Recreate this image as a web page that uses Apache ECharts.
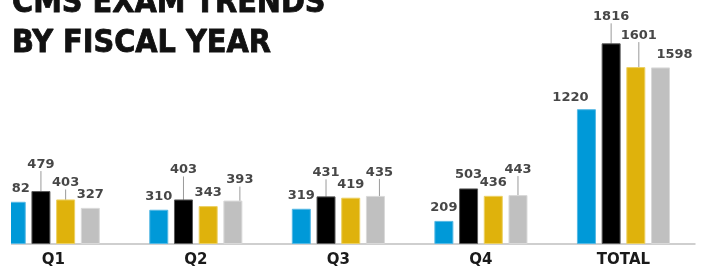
<!DOCTYPE html>
<html>
<head>
<meta charset="utf-8">
<script src="https://cdn.jsdelivr.net/npm/echarts@6/dist/echarts.min.js"></script>
<style>
html,body{margin:0;padding:0;background:#fff;overflow:hidden;width:701px;height:269px;}
#chart{width:719px;height:269px;margin-left:-18px;}
</style>
</head>
<body>
<div id="chart"></div>
<script>
// ---- data ----
const categories = ['Q1', 'Q2', 'Q3', 'Q4', 'TOTAL'];
const seriesNames = ['FY 1', 'FY 2', 'FY 3', 'FY 4'];
const fyBlue  = [382, 310, 319, 209, 1220];
const fyBlack = [479, 403, 431, 503, 1816];
const fyGold  = [403, 343, 419, 436, 1601];
const fyGray  = [327, 393, 435, 443, 1598];
const titleLines = ['CMS EXAM TRENDS', 'BY FISCAL YEAR'];

// ---- styling ----
const colors  = ['#0099D8', '#000000', '#DFB20C', '#C0C0C0'];
const borders = ['#55b8e4', '#5a5a5a', '#ecd062', '#d9d9d9'];
// label nudges [dx, dy] and leader-line flags (style only)
const labelShift = [
  [[0,0],[0,0],[0,0],[0,0],[-16,2]],
  [[0,-13],[0,-16],[0,-10],[0,0],[0,-13]],
  [[0,-3],[0,0],[0,0],[0,0],[3,-18]],
  [[0,0],[7,-7],[4,-10],[0,-12],[14,1]]
];
const leaders = [
  [false,false,false,false,false],
  [true,true,true,false,true],
  [true,false,false,false,true],
  [false,true,true,true,false]
];

const values = [fyBlue, fyBlack, fyGold, fyGray];
const series = values.map((vals, s) => ({
  name: seriesNames[s],
  type: 'bar',
  barWidth: 19,
  barGap: '30%',
  itemStyle: { color: colors[s], borderColor: borders[s], borderWidth: 1 },
  label: {
    show: true,
    position: 'top',
    distance: 7,
    fontFamily: 'DejaVu Sans',
    fontWeight: 'bold',
    fontSize: 13,
    color: '#474747'
  },
  labelLine: { show: false, lineStyle: { color: '#9a9a9a', width: 1 } },
  labelLayout: function (p) {
    const o = labelShift[p.seriesIndex][p.dataIndex];
    return { dx: o[0], dy: o[1] };
  },
  data: vals.map((v, i) => ({
    value: v,
    labelLine: { show: leaders[s][i], lineStyle: { color: '#9a9a9a', width: 1 } }
  }))
}));

const OFF = 18; // canvas is shifted left by this much
const chart = echarts.init(document.getElementById('chart'), null, { renderer: 'canvas' });
chart.setOption({
  animation: false,
  backgroundColor: '#ffffff',
  grid: { left: 0, right: 6.25, top: 23, bottom: 25, containLabel: false },
  xAxis: {
    type: 'category',
    data: categories,
    boundaryGap: true,
    axisTick: { show: false },
    axisLine: { lineStyle: { color: '#cfcfcf', width: 2 } },
    axisLabel: {
      margin: 9,
      fontFamily: 'DejaVu Sans',
      fontWeight: 'bold',
      fontSize: 15,
      color: '#1a1a1a'
    }
  },
  yAxis: { type: 'value', min: 0, max: 2000, show: false, splitLine: { show: false } },
  series: series,
  graphic: [
    { type: 'rect', z: 100, shape: { x: 0, y: 70, width: OFF + 11, height: 199 }, style: { fill: '#ffffff' } },
    { type: 'text', z: 100, x: OFF + 12, y: 3.5, style: { text: titleLines[0], fontFamily: 'DejaVu Sans Condensed', fontWeight: 'bold', fontSize: 32, fill: '#111', stroke: '#111', lineWidth: 0.8, verticalAlign: 'middle' } },
    { type: 'text', z: 100, x: OFF + 12, y: 43.5, style: { text: titleLines[1], fontFamily: 'DejaVu Sans Condensed', fontWeight: 'bold', fontSize: 32, fill: '#111', stroke: '#111', lineWidth: 0.8, verticalAlign: 'middle' } }
  ]
});
</script>
</body>
</html>
